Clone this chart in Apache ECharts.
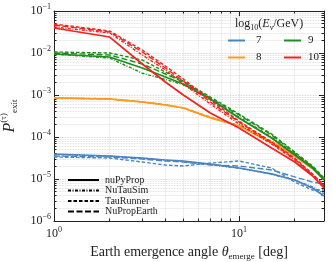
<!DOCTYPE html>
<html><head><meta charset="utf-8">
<script src="https://cdn.jsdelivr.net/npm/echarts@6/dist/echarts.min.js"></script>
<style>html,body{margin:0;padding:0;background:#fff}#c{width:333px;height:262px}</style>
</head><body><div id="c"></div>
<script>
// Earth emergence angle (deg)
const theta = [1, 2, 3, 4, 5, 7, 10, 15, 20, 25, 28.8];
const energyLabels = ['7', '8', '9', '10'];
const codeNames = ['nuPyProp', 'NuTauSim', 'TauRunner', 'NuPropEarth'];
const xTickLabels = [1, 10];
const yTickLabels = [1e-6, 1e-5, 1e-4, 1e-3, 1e-2, 1e-1];

// log10(Ev/GeV) = 7
const e7_nuPyProp    = [3.94e-5, 3.53e-5, 3.16e-5, 2.83e-5, 2.68e-5, 2.27e-5, 1.83e-5, 1.32e-5, 9.46e-6, 6.1e-6, 3.94e-6];
const e7_NuTauSim    = [3.8e-5, 3.5e-5, 3.1e-5, 2.8e-5, 2.6e-5, 2.2e-5, 1.8e-5, 1.3e-5, 9.5e-6, 6.5e-6, 4.5e-6];
const e7_TauRunner   = [3.34e-5, 3.16e-5, 2.54e-5, 2.15e-5, 2.04e-5, 2.40e-5, 2.68e-5, 1.83e-5, 8.48e-6, 5.47e-6, 5.47e-6];
const e7_NuPropEarth = [3.53e-5, 3.34e-5, 2.99e-5, 2.68e-5, 2.54e-5, 2.15e-5, 2.04e-5, 1.64e-5, 1.12e-5, 8.48e-6, 7.6e-6];
// = 8
const e8_nuPyProp    = [8.48e-4, 8.03e-4, 6.81e-4, 5.78e-4, 4.90e-4, 2.83e-4, 1.83e-4, 7.2e-5, 3.53e-5, 1.73e-5, 9.46e-6];
const e8_NuTauSim    = [8.5e-4, 8.0e-4, 6.8e-4, 5.8e-4, 4.9e-4, 2.9e-4, 1.85e-4, 7.6e-5, 3.7e-5, 1.8e-5, 1.0e-5];
const e8_TauRunner   = [8.6e-4, 8.1e-4, 6.9e-4, 5.9e-4, 5.0e-4, 3.0e-4, 1.9e-4, 8.0e-5, 3.9e-5, 1.9e-5, 1.05e-5];
const e8_NuPropEarth = [8.5e-4, 8.0e-4, 6.8e-4, 5.8e-4, 4.9e-4, 2.9e-4, 1.85e-4, 7.8e-5, 3.8e-5, 1.85e-5, 1.02e-5];
// = 9
const e9_nuPyProp    = [0.00946, 0.00803, 0.00439, 0.00268, 0.00183, 8.03e-4, 2.83e-4, 9.46e-5, 3.73e-5, 1.83e-5, 9.46e-6];
const e9_NuTauSim    = [0.00946, 0.00760, 0.00330, 0.00235, 0.00175, 8.03e-4, 2.99e-4, 1.0e-4, 3.94e-5, 1.93e-5, 9.46e-6];
const e9_TauRunner   = [0.01056, 0.0100, 0.00681, 0.00353, 0.00215, 8.96e-4, 3.53e-4, 1.18e-4, 4.39e-5, 2.04e-5, 1.06e-5];
const e9_NuPropEarth = [0.0100, 0.00896, 0.00547, 0.00316, 0.00204, 8.48e-4, 3.34e-4, 1.12e-4, 4.16e-5, 1.93e-5, 1.0e-5];
// = 10
const e10_nuPyProp    = [0.0394, 0.0240, 0.00547, 0.00204, 0.00100, 3.73e-4, 1.64e-4, 5.47e-5, 2.54e-5, 1.18e-5, 6.1e-6];
const e10_NuTauSim    = [0.0416, 0.0299, 0.00896, 0.00394, 0.00183, 6.10e-4, 2.04e-4, 6.81e-5, 2.83e-5, 1.25e-5, 6.81e-6];
const e10_TauRunner   = [0.0490, 0.0334, 0.01178, 0.00490, 0.00240, 7.60e-4, 2.40e-4, 7.60e-5, 3.16e-5, 1.32e-5, 7.2e-6];
const e10_NuPropEarth = [0.0464, 0.0316, 0.01056, 0.00439, 0.00215, 6.81e-4, 2.27e-4, 7.20e-5, 2.99e-5, 1.25e-5, 6.45e-6];

const seriesData = {
  '7':  [e7_nuPyProp, e7_NuTauSim, e7_TauRunner, e7_NuPropEarth],
  '8':  [e8_nuPyProp, e8_NuTauSim, e8_TauRunner, e8_NuPropEarth],
  '9':  [e9_nuPyProp, e9_NuTauSim, e9_TauRunner, e9_NuPropEarth],
  '10': [e10_nuPyProp, e10_NuTauSim, e10_TauRunner, e10_NuPropEarth]
};
const colors = {'7': '#4a85c0', '8': '#fb9b22', '9': '#1e8c1e', '10': '#f2221f'};
const dashTypes = ['solid', [3, 1.5, 1, 1.5], [3.5, 2], [6, 2.5]];
const widths = [1.7, 1.4, 1.4, 1.4];

const FONT = '"Liberation Serif", "DejaVu Serif", serif';
const TXT = '#222';

function powLabel(v) {
  const e = Math.round(Math.log10(v));
  if (Math.abs(v - Math.pow(10, e)) / v > 1e-6) return '';
  return '{b|10}{s|' + (e < 0 ? '\u2212' + (-e) : e) + '}';
}
const labelRich = {
  b: {fontSize: 12, fontFamily: FONT, color: TXT, lineHeight: 16},
  s: {fontSize: 8, fontFamily: FONT, color: TXT, verticalAlign: 'top'}
};

const series = [];
energyLabels.forEach(function (en) {
  seriesData[en].forEach(function (arr, ci) {
    series.push({
      type: 'line', name: en, symbol: 'none', silent: true,
      data: theta.map(function (t, i) { return [t, arr[i]]; }),
      color: colors[en],
      lineStyle: {color: colors[en], width: widths[ci], type: dashTypes[ci]},
      z: 3
    });
  });
});
codeNames.forEach(function (cn, ci) {
  series.push({
    type: 'line', name: cn, symbol: 'none', data: [], color: '#000',
    lineStyle: {color: '#000', width: 1.6, type: dashTypes[ci]}
  });
});

function mkX(pos, show) {
  return {
    type: 'log', logBase: 10, min: 1, max: 28.8, position: pos,
    axisLine: {show: true, onZero: false, lineStyle: {color: TXT, width: 1}},
    axisTick: {show: true, inside: true, length: 5, lineStyle: {color: TXT}},
    minorTick: {show: true, splitNumber: 9, length: 2.5, lineStyle: {color: TXT}},
    splitLine: {show: show, lineStyle: {color: '#c8c8c8', type: 'dotted', width: 0.8}},
    minorSplitLine: {show: show, lineStyle: {color: '#d6d6d6', type: 'dotted', width: 0.8}},
    axisLabel: {show: show, formatter: powLabel, rich: labelRich, margin: 5, showMaxLabel: false},
    name: show ? '{t|Earth emergence angle }{i|\u03b8}{sub|emerge}{t| [deg]}' : '',
    nameLocation: 'middle', nameGap: 21,
    nameTextStyle: {rich: {
      t: {fontSize: 14, fontFamily: FONT, color: TXT, lineHeight: 18},
      i: {fontSize: 14, fontFamily: FONT, fontStyle: 'italic', color: TXT, lineHeight: 18},
      sub: {fontSize: 9, fontFamily: FONT, color: TXT, verticalAlign: 'bottom'}
    }}
  };
}
function mkY(pos, show) {
  return {
    type: 'log', logBase: 10, min: 1e-6, max: 1e-1, position: pos,
    axisLine: {show: true, onZero: false, lineStyle: {color: TXT, width: 1}},
    axisTick: {show: true, inside: true, length: 5, lineStyle: {color: TXT}},
    minorTick: {show: true, splitNumber: 9, length: 2.5, lineStyle: {color: TXT}},
    splitLine: {show: show, lineStyle: {color: '#c8c8c8', type: 'dotted', width: 0.8}},
    minorSplitLine: {show: show, lineStyle: {color: '#d6d6d6', type: 'dotted', width: 0.8}},
    axisLabel: {show: show, formatter: powLabel, rich: labelRich, margin: 3},
    name: show ? '{i|P}{sup|(\u03c4)}{sub|exit}' : '',
    nameLocation: 'middle', nameGap: 31, nameRotate: 90,
    nameTextStyle: {rich: {
      i: {fontSize: 16, fontFamily: FONT, fontStyle: 'italic', color: TXT, lineHeight: 20},
      sup: {fontSize: 9, fontFamily: FONT, color: TXT, verticalAlign: 'top'},
      sub: {fontSize: 9, fontFamily: FONT, color: TXT, verticalAlign: 'bottom'}
    }}
  };
}

const legendBase = {orient: 'vertical', padding: 0, selectedMode: false, itemStyle: {opacity: 0}};
const chart = echarts.init(document.getElementById('c'), null, {renderer: 'canvas'});
chart.setOption({
  animation: false,
  backgroundColor: '#fff',
  grid: {left: 54, right: 9, top: 11, bottom: 41, containLabel: false, outerBoundsMode: 'none'},
  xAxis: [mkX('bottom', true), mkX('top', false)],
  yAxis: [mkY('left', true), mkY('right', false)],
  title: {
    text: 'log{sub|10}({i|E}{sub|\u03bd}/GeV)', left: 235, top: 16, padding: 0,
    textStyle: {fontSize: 12, fontFamily: FONT, fontWeight: 'normal', color: TXT, rich: {
      sub: {fontSize: 8, fontFamily: FONT, color: TXT, verticalAlign: 'bottom', lineHeight: 16},
      i: {fontSize: 12, fontFamily: FONT, fontStyle: 'italic', color: TXT, lineHeight: 16}
    }}
  },
  legend: [
    Object.assign({}, legendBase, {data: ['7', '8'], left: 227, top: 35, itemWidth: 17, itemHeight: 10, itemGap: 6,
     textStyle: {fontSize: 11, fontFamily: FONT, color: TXT, padding: [0, 0, 0, 6]}}),
    Object.assign({}, legendBase, {data: ['9', '10'], left: 283, top: 35, itemWidth: 17, itemHeight: 10, itemGap: 6,
     textStyle: {fontSize: 11, fontFamily: FONT, color: TXT, padding: [0, 0, 0, 2]}}),
    Object.assign({}, legendBase, {data: codeNames, left: 67, top: 175, itemWidth: 31, itemHeight: 10, itemGap: 0.5,
     textStyle: {fontSize: 10, fontFamily: FONT, color: TXT, lineHeight: 10, padding: [0, 0, 0, 1]}})
  ],
  series: series
});
</script></body></html>
